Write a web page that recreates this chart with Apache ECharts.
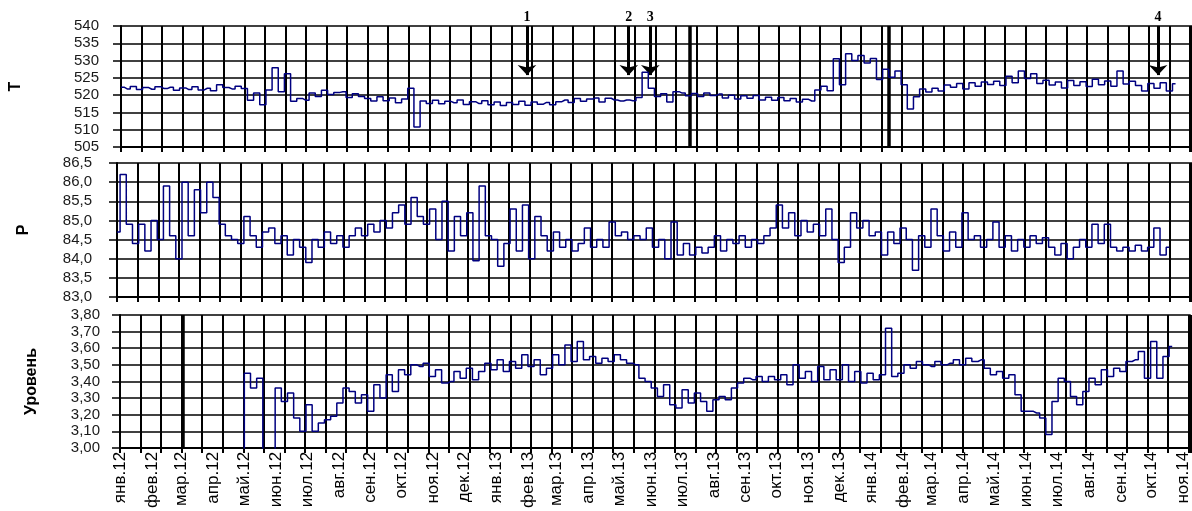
<!DOCTYPE html>
<html>
<head>
<meta charset="utf-8">
<script src="https://cdn.jsdelivr.net/npm/echarts@6/dist/echarts.min.js"></script>
<style>
    html, body { margin: 0; padding: 0; background: #fff; }
    #page { position: relative; width: 1192px; height: 511px; overflow: hidden; }
    .panel { position: absolute; left: 0; width: 1192px; }
    #tBox { top: 0; height: 156px; }
    #pBox { top: 154px; height: 153px; }
    #lBox { top: 306px; height: 205px; }
</style>
</head>
<body>
<div id="page">
    <div id="tBox" class="panel"></div>
    <div id="pBox" class="panel"></div>
    <div id="lBox" class="panel"></div>
</div>
<script>
// подписи месяцев по оси X (янв.12 ... ноя.14)
var monthNames = ['янв', 'фев', 'мар', 'апр', 'май', 'июн', 'июл', 'авг', 'сен', 'окт', 'ноя', 'дек'];
var monthLabels = [];
for (var m = 0; m < 35; m++) {
    monthLabels.push(monthNames[m % 12] + '.' + (12 + Math.floor(m / 12)));
}

// шаг записи, сутки
var stepDays = 6;
var tStart = 0;
var pStart = 0;
var levelStart = 118;

// температура Т
var tempValues = [
    522.3, 521.8, 522.5, 521.6, 522.2, 521.7, 522.4, 521.9, 522.3, 521.4,
    522.1, 521.6, 522.4, 521.5, 522.0, 521.3, 523.0, 522.2, 521.8, 522.6,
    521.9, 518.5, 520.6, 517.2, 521.5, 527.9, 521.0, 526.2, 518.2, 519.0,
    518.5, 520.6, 519.6, 521.4, 520.2, 520.8, 521.0, 519.3, 520.4, 519.6,
    519.0, 518.3, 519.5, 518.4, 519.2, 517.8, 518.9, 522.0, 510.8, 518.3,
    517.6, 518.5, 517.5, 518.2, 517.8, 518.6, 517.3, 518.1, 517.6, 518.4,
    517.2, 518.0, 517.0, 517.9, 517.3, 518.2, 517.1, 518.0, 517.4, 517.9,
    517.2, 518.1, 518.6, 517.9, 519.0, 518.2, 518.9, 519.2, 518.0, 519.1,
    518.6, 518.3, 518.6, 518.4, 519.3, 526.6, 522.0, 519.6, 520.4, 518.0,
    521.0, 520.6, 519.8, 520.5, 519.6, 520.6, 519.9, 520.3, 519.2, 520.0,
    518.9, 519.8, 519.1, 519.9, 518.6, 519.4, 518.5, 519.3, 518.4, 519.0,
    518.0, 518.8, 518.3, 521.5, 522.6, 521.3, 530.5, 523.0, 532.0, 530.0,
    531.5, 529.3, 530.6, 524.5, 527.5, 525.2, 527.0, 523.0, 516.0, 519.5,
    521.8, 520.9, 522.0, 521.2, 522.9, 522.3, 523.4, 521.8, 523.6, 522.6,
    523.8, 523.1, 524.0, 522.8, 525.5, 523.6, 527.0, 524.8, 526.2, 523.4,
    524.3, 522.9, 523.8, 522.1, 524.2, 522.8, 523.9, 522.5, 524.6, 523.0,
    524.1, 522.6, 527.0, 523.2, 524.0, 522.8, 521.2, 523.4, 522.0, 523.6,
    521.2, 523.3
];

// давление Р
var pressureValues = [
    84.7, 86.2, 84.9, 84.4, 84.9, 84.2, 85.0, 84.5, 85.9, 84.6,
    84.0, 86.0, 84.6, 85.8, 85.2, 86.0, 85.6, 84.9, 84.6, 84.5,
    84.4, 85.1, 84.6, 84.3, 84.7, 84.8, 84.4, 84.6, 84.1, 84.5,
    84.3, 83.9, 84.5, 84.3, 84.7, 84.4, 84.6, 84.3, 84.6, 84.8,
    84.6, 84.9, 84.7, 85.0, 84.8, 85.2, 85.4, 84.9, 85.6, 85.1,
    84.9, 85.3, 84.5, 85.5, 84.2, 85.1, 84.6, 85.2, 83.95, 85.9,
    84.6, 84.5, 83.8, 84.4, 85.3, 84.2, 85.4, 84.0, 85.1, 84.6,
    84.2, 84.7, 84.3, 84.5, 84.2, 84.4, 84.8, 84.3, 84.5, 84.3,
    84.96, 84.6, 84.7, 84.5, 84.6, 84.5, 84.8, 84.3, 84.5, 84.0,
    84.96, 84.1, 84.4, 84.1, 84.3, 84.15, 84.3, 84.6, 84.2, 84.5,
    84.4, 84.6, 84.3, 84.5, 84.4, 84.6, 84.8, 85.4, 84.8, 85.2,
    84.6, 85.0, 84.7, 84.9, 84.6, 85.3, 84.5, 83.9, 84.3, 85.2,
    84.8, 85.0, 84.6, 84.7, 84.1, 84.7, 84.4, 84.8, 84.5, 83.7,
    84.6, 84.3, 85.3, 84.6, 84.2, 84.7, 84.3, 85.2, 84.5, 84.6,
    84.3, 84.5, 84.96, 84.3, 84.6, 84.2, 84.5, 84.3, 84.6, 84.4,
    84.55, 84.3, 84.1, 84.4, 84.0, 84.3, 84.5, 84.3, 84.9, 84.4,
    84.9, 84.3, 84.2, 84.3, 84.2, 84.35, 84.2, 84.3, 84.8, 84.1,
    84.3
];

// уровень
var levelValues = [
    2.90, 3.45, 3.36, 3.42, 2.90, 2.90, 3.36, 3.28, 3.33, 3.18,
    3.10, 3.26, 3.10, 3.15, 3.17, 3.19, 3.27, 3.36, 3.34, 3.27,
    3.32, 3.22, 3.38, 3.30, 3.44, 3.34, 3.47, 3.44, 3.50, 3.49,
    3.51, 3.43, 3.47, 3.39, 3.40, 3.46, 3.42, 3.48, 3.41, 3.46,
    3.51, 3.47, 3.53, 3.46, 3.52, 3.48, 3.56, 3.49, 3.53, 3.44,
    3.48, 3.56, 3.50, 3.62, 3.52, 3.64, 3.53, 3.55, 3.51, 3.54,
    3.52, 3.56, 3.53, 3.51, 3.50, 3.42, 3.40, 3.36, 3.31, 3.38,
    3.26, 3.24, 3.35, 3.27, 3.33, 3.28, 3.22, 3.29, 3.31, 3.29,
    3.36, 3.39, 3.42, 3.41, 3.43, 3.40, 3.43, 3.41, 3.44, 3.38,
    3.50, 3.42, 3.46, 3.40, 3.49, 3.41, 3.47, 3.41, 3.50, 3.40,
    3.46, 3.39, 3.45, 3.41, 3.44, 3.72, 3.43, 3.45, 3.50, 3.48,
    3.52, 3.50, 3.49, 3.52, 3.50, 3.51, 3.53, 3.50, 3.54, 3.52,
    3.53, 3.48, 3.44, 3.46, 3.42, 3.44, 3.32, 3.22, 3.22, 3.21,
    3.18, 3.08, 3.28, 3.42, 3.40, 3.31, 3.26, 3.34, 3.42, 3.38,
    3.47, 3.43, 3.48, 3.46, 3.52, 3.53, 3.58, 3.42, 3.64, 3.42,
    3.55, 3.61
];

// отмеченные моменты: толстые вертикальные линии (сутки)
var tempEventDays = [553, 747];
var levelEventDays = [61];
// стрелки 1-4 на графике Т
var arrowNames = ['1', '2', '3', '4'];
var arrowDays = [395, 494, 515, 1009];
var arrowTip = 525.8;

var dayMax = 1042;
var gridStep = 20;

function toPoints(values, start) {
    return values.map(function (v, i) { return [start + i * stepDays, v]; });
}

// сутки от 01.01.2012 до начала каждого месяца
var labelByDay = {};
monthLabels.forEach(function (s, i) {
    labelByDay[(Date.UTC(2012, i, 1) - Date.UTC(2012, 0, 1)) / 86400000] = s;
});
var dayCategories = [];
for (var d = 0; d <= dayMax; d++) { dayCategories.push(String(d)); }

function comma(v, n) { return v.toFixed(n).replace('.', ','); }

// ось X с сеткой через 20 суток
function gridX() {
    return {
        type: 'value',
        min: 0,
        max: dayMax,
        interval: gridStep,
        axisLine: { show: true, onZero: false, lineStyle: { color: '#000', width: 2 } },
        axisTick: { show: true, length: 5, lineStyle: { color: '#000', width: 2 } },
        splitLine: { show: true, lineStyle: { color: '#000', width: 2 } },
        axisLabel: { show: false }
    };
}

// ось X только для подписей месяцев
function monthX() {
    return {
        type: 'category',
        data: dayCategories,
        boundaryGap: false,
        position: 'bottom',
        axisLine: { show: false },
        axisTick: { show: false },
        splitLine: { show: false },
        axisLabel: {
            interval: function (index, value) { return labelByDay[value] !== undefined; },
            formatter: function (value) { return labelByDay[value] || ''; },
            rotate: 90,
            margin: 4,
            color: '#000',
            fontFamily: '"Liberation Sans Narrow", "Liberation Sans", Arial, sans-serif',
            fontSize: 17
        }
    };
}

function makeY(name, min, max, interval, digits, gap, margin) {
    return {
        type: 'value',
        min: min,
        max: max,
        interval: interval,
        name: name,
        nameLocation: 'middle',
        nameRotate: 90,
        nameGap: gap,
        nameTextStyle: { color: '#000', fontWeight: 'bold', fontSize: 16 },
        axisLine: { show: true, lineStyle: { color: '#000', width: 2 } },
        axisTick: { show: true, length: 8, lineStyle: { color: '#000', width: 1.5 } },
        splitLine: { show: true, lineStyle: { color: '#000', width: 1.5 } },
        axisLabel: {
            margin: margin,
            color: '#1a1a1a',
            fontSize: 15,
            formatter: function (v) { return comma(v, digits); }
        }
    };
}

// вертикальная сетка через gridStep суток
function gridLines() {
    var res = [];
    for (var x = 0; x <= dayMax; x += gridStep) {
        res.push({ xAxis: x });
    }
    return res;
}

function eventLines(days) {
    return days.map(function (d) {
        return { xAxis: d, lineStyle: { color: '#000', width: 3.5, type: 'solid' } };
    });
}

var arrowData = arrowDays.map(function (d, i) {
    return [
        { coord: [d, 540], name: arrowNames[i], symbol: 'none',
          lineStyle: { color: '#000', width: 3, type: 'solid' },
          label: { show: true, position: 'start', formatter: arrowNames[i], distance: 2,
                   color: '#000', fontWeight: 'bold', fontSize: 14, fontFamily: 'Liberation Serif' } },
        { coord: [d, arrowTip], symbol: 'arrow', symbolSize: [14, 10] }
    ];
});

function marks(extra) {
    return {
        silent: true,
        z: 1,
        symbol: ['none', 'none'],
        label: { show: false },
        lineStyle: { color: '#000', width: 2, type: 'solid' },
        data: gridLines().concat(extra)
    };
}

function lineSeries(values, start, markLine) {
    return {
        type: 'line',
        xAxisIndex: 0,
        z: 3,
        data: toPoints(values, start),
        step: 'middle',
        showSymbol: false,
        lineStyle: { color: '#000080', width: 1.5 },
        markLine: markLine
    };
}

// Т
var tChart = echarts.init(document.getElementById('tBox'));
tChart.setOption({
    animation: false,
    grid: { left: 117, right: 0, top: 26, height: 121 },
    xAxis: gridX(),
    yAxis: makeY('Т', 505, 540, 5, 0, 97, 22),
    series: [lineSeries(tempValues, tStart, marks(eventLines(tempEventDays).concat(arrowData)))]
});

// Р
var pChart = echarts.init(document.getElementById('pBox'));
pChart.setOption({
    animation: false,
    grid: { left: 117, right: 0, top: 9, height: 134 },
    xAxis: gridX(),
    yAxis: makeY('Р', 83, 86.5, 0.5, 1, 85, 25),
    series: [lineSeries(pressureValues, pStart, marks([]))]
});

// уровень
var lChart = echarts.init(document.getElementById('lBox'));
lChart.setOption({
    animation: false,
    grid: { left: 120, right: 0, top: 9, height: 152 },
    xAxis: [gridX(), monthX()],
    yAxis: makeY('Уровень', 3.0, 3.8, 0.1, 2, 80, 20),
    series: [lineSeries(levelValues, levelStart, marks(eventLines(levelEventDays)))]
});

window.addEventListener('resize', function () {
    tChart.resize();
    pChart.resize();
    lChart.resize();
});
</script>
</body>
</html>
